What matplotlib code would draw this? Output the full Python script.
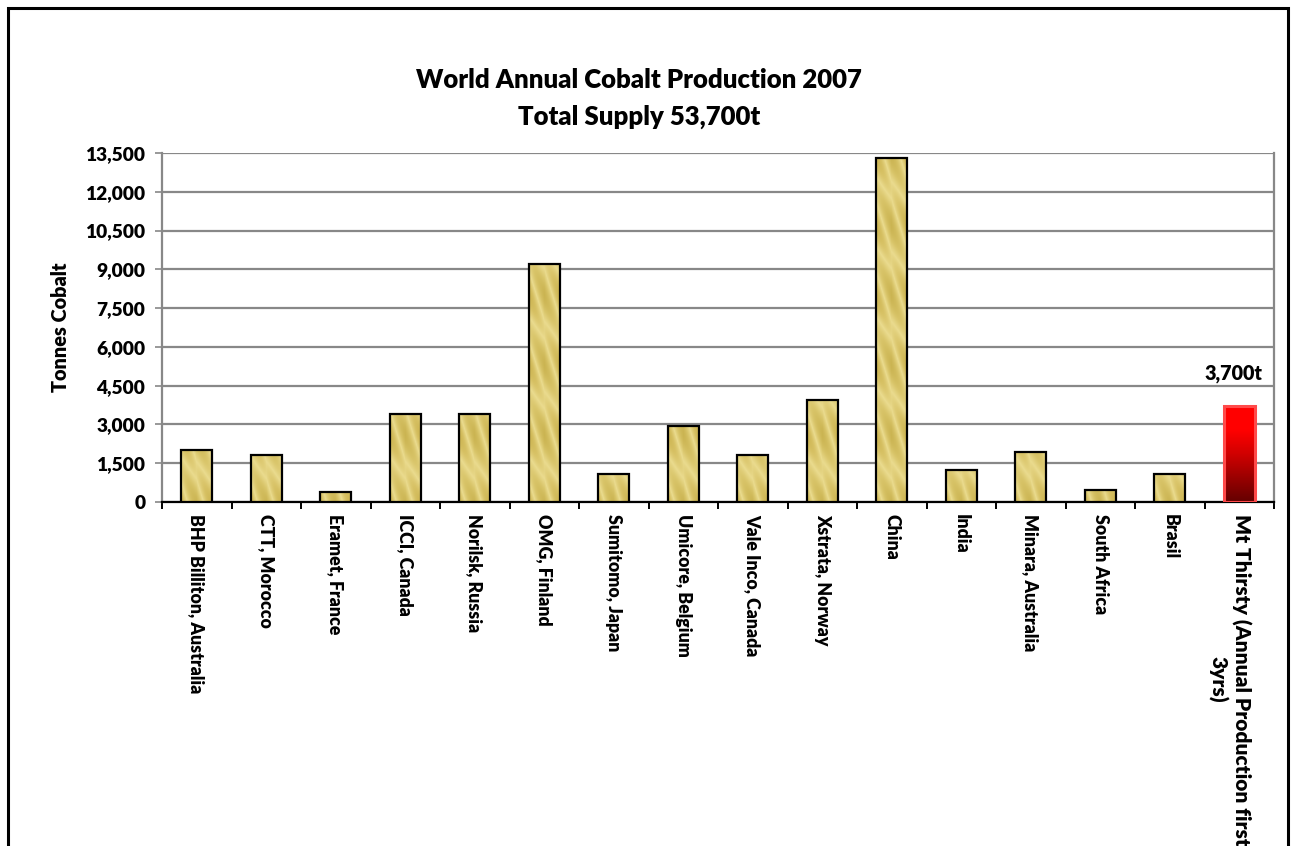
import numpy as np
import matplotlib
matplotlib.use("Agg")
import matplotlib.pyplot as plt
from matplotlib.patches import Rectangle
from matplotlib.colors import LinearSegmentedColormap

# ---- data ----
categories = [
    "BHP Billiton, Australia", "CTT, Morocco", "Eramet, France", "ICCI, Canada",
    "Norilsk, Russia", "OMG, Finland", "Sumitomo, Japan", "Umicore, Belgium",
    "Vale Inco, Canada", "Xstrata, Norway", "China", "India",
    "Minara, Australia", "South Africa", "Brasil",
    "Mt Thirsty (Annual Production first\n3yrs)",
]
values = [2000, 1800, 400, 3400, 3400, 9200, 1100, 2950, 1800, 3950,
          13300, 1250, 1950, 475, 1100, 3700]
yticks = [0, 1500, 3000, 4500, 6000, 7500, 9000, 10500, 12000, 13500]
ytick_labels = ["0", "1,500", "3,000", "4,500", "6,000", "7,500", "9,000",
                "10,500", "12,000", "13,500"]
title_line1 = "World Annual Cobalt Production 2007"
title_line2 = "Total Supply 53,700t"
ylabel = "Tonnes Cobalt"
highlight_label = "3,700t"

plt.rcParams['font.family'] = ['Lato', 'DejaVu Sans']
WEIGHT = 'heavy'

W, H = 1293, 846
fig = plt.figure(figsize=(W / 100, H / 100), dpi=100)
left, right, top, bottom = 162, 1274, 153, 502
ax = fig.add_axes([left / W, 1 - bottom / H, (right - left) / W, (bottom - top) / H])

n = len(categories)
x = np.arange(n)
ax.set_xlim(-0.5, n - 0.5)
ax.set_ylim(0, 13500)

# gridlines
ax.set_yticks(yticks)
ax.set_yticklabels(ytick_labels, fontsize=13.8, fontweight=WEIGHT)
ax.yaxis.grid(True, color='#888888', lw=1.6, zorder=0)
ax.set_axisbelow(True)

# spines
ax.spines['top'].set_visible(False)
for s in ['left', 'right']:
    ax.spines[s].set_color('#888888')
    ax.spines[s].set_linewidth(1.6)
ax.spines['bottom'].set_color('black')
ax.spines['bottom'].set_linewidth(1.6)

ax.tick_params(axis='y', direction='out', length=5, width=1.2, color='#888888', pad=7)

# x ticks: labels at centers, tick marks at boundaries
ax.set_xticks(x)
tick_texts = categories[:-1] + [""]
ax.set_xticklabels(tick_texts, rotation=-90, fontsize=12.8, fontweight=WEIGHT,
                   va='top', ha='center')
ax.tick_params(axis='x', which='major', length=0, pad=9)
ax.set_xticks(np.arange(-0.5, n, 1.0), minor=True)
ax.tick_params(axis='x', which='minor', direction='out', length=5, width=1.4, color='black')

# last (two-line) category label
ax.annotate(categories[-1], xy=(x[-1], 0), xycoords='data', xytext=(-7, -8.5),
            textcoords='offset points', rotation=-90, ha='center', va='top',
            multialignment='center', fontsize=15, fontweight=WEIGHT,
            annotation_clip=False)

ax.set_ylabel(ylabel, fontsize=14.3, fontweight=WEIGHT, labelpad=11)

# bars (edges)
width = 0.44
colors_edge = ['black'] * (n - 1) + ['#FF4A4A']
bars = ax.bar(x, values, width=width, facecolor='none', edgecolor=colors_edge,
              linewidth=[1.6] * (n - 1) + [2.2], zorder=4)

gold = LinearSegmentedColormap.from_list(
    'gold', ['#C5AC45', '#D7C164', '#EADB8E', '#D9C56A', '#C9B24F'])
red = LinearSegmentedColormap.from_list(
    'red', ['#650000', '#9A0000', '#D00000', '#FF0000', '#FF0000'])

for i, b in enumerate(bars):
    x0, w, h = b.get_x(), b.get_width(), b.get_height()
    p0 = ax.transData.transform((x0, 0))
    p1 = ax.transData.transform((x0 + w, h))
    wpx = max(int(round(p1[0] - p0[0])), 2)
    hpx = max(int(round(p1[1] - p0[1])), 2)
    if i < n - 1:
        u = np.linspace(0, 1, wpx)[None, :]
        v = np.arange(hpx)[::-1][:, None]
        phase = u * 1.0 + v / 70.0
        tex = 0.5 + 0.45 * np.cos(2 * np.pi * (phase - 0.45))
        tex = 0.6 * tex + 0.4 * (1 - np.abs(u - 0.5) * 1.6)
        ax.imshow(tex, cmap=gold, vmin=0, vmax=1, extent=[x0, x0 + w, 0, h],
                  aspect='auto', zorder=3, interpolation='bilinear')
    else:
        v = np.linspace(1, 0, hpx)[:, None] * np.ones((1, wpx))
        ax.imshow(v, cmap=red, vmin=0, vmax=1, extent=[x0, x0 + w, 0, h],
                  aspect='auto', zorder=3, interpolation='bilinear')
        ax.annotate(highlight_label, xy=(x[i], values[i]), xytext=(-4, 17),
                    textcoords='offset points', ha='center', va='bottom',
                    fontsize=14.2, fontweight=WEIGHT)

ax.set_xlim(-0.5, n - 0.5)
ax.set_ylim(0, 13500)

# titles
fig.text(0.494, 1 - 80 / H, title_line1, ha='center', va='center', fontsize=18.5, fontweight=WEIGHT)
fig.text(0.494, 1 - 117 / H, title_line2, ha='center', va='center', fontsize=18.5, fontweight=WEIGHT)

# outer chart frame
fig.add_artist(Rectangle((8 / W, -0.1), (1288 - 8) / W, 1 - 8 / H + 0.1,
                         transform=fig.transFigure, fill=False, ec='black', lw=2.2))

fig.savefig('out.png', dpi=100)
